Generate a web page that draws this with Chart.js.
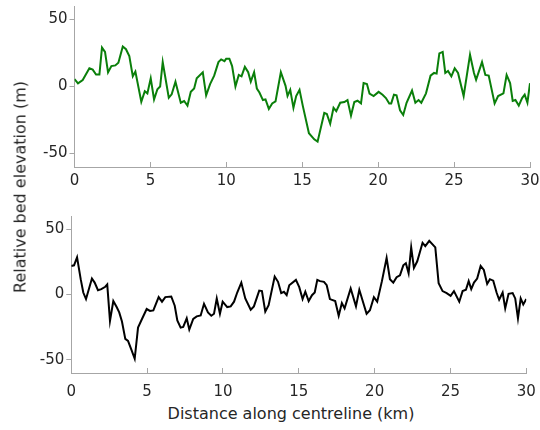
<!DOCTYPE html>
<html>
<head>
<meta charset="utf-8">
<script src="https://cdn.jsdelivr.net/npm/chart.js@4"></script>
<style>
body{margin:0;width:540px;height:430px;background:#fff;position:relative;overflow:hidden;font-family:"DejaVu Sans",sans-serif;color:#262626}
.box{position:absolute;left:0;width:540px}
#ytitle{position:absolute;left:20px;top:187px;transform:translate(-50%,-50%) rotate(-90deg);white-space:nowrap;font-size:16px}
#xtitle{position:absolute;left:291px;top:413px;transform:translate(-50%,-50%);white-space:nowrap;font-size:16px}
</style>
</head>
<body>
<div class="box" style="top:-5.5px;height:202px"><canvas id="topChart"></canvas></div>
<div class="box" style="top:205px;height:198px"><canvas id="botChart"></canvas></div>
<div id="ytitle">Relative bed elevation (m)</div>
<div id="xtitle">Distance along centreline (km)</div>
<script>
// distance along centreline (km) and relative bed elevation (m)
const topX=[0,0.23,0.54,0.98,1.2,1.42,1.64,1.81,2.01,2.21,2.43,2.69,2.89,3.18,3.39,3.61,3.84,4.01,4.4,4.63,4.8,5.02,5.24,5.46,5.64,5.81,6.21,6.4,6.65,7.0,7.22,7.44,7.66,7.88,8.05,8.45,8.67,8.93,9.2,9.48,9.66,9.88,9.99,10.2,10.38,10.6,10.82,11.0,11.22,11.44,11.61,11.83,12.01,12.18,12.41,12.58,12.8,13.02,13.24,13.59,13.9,14.03,14.21,14.42,14.6,14.82,15.04,15.44,15.79,16.01,16.45,16.62,16.84,17.06,17.24,17.5,17.77,17.98,18.21,18.43,18.64,18.87,19.04,19.26,19.43,19.7,20.03,20.29,20.51,20.73,20.86,21.04,21.21,21.44,21.65,21.87,22.23,22.45,22.66,22.84,23.15,23.45,23.68,23.85,24.03,24.25,24.42,24.6,24.82,25.04,25.26,25.63,26.05,26.31,26.45,26.84,27.06,27.28,27.67,27.9,28.25,28.46,28.69,28.86,29.04,29.26,29.48,29.65,29.83,30.0];
const topY=[5.5,2.3,4.8,13.6,12.6,8.9,8.9,29,25.8,10.6,15.2,15.7,17.7,29.8,27.8,22.7,7.6,11.1,-11.4,-3.5,-5.1,6.1,-9.6,-2,0,18.2,-8.3,-5.8,3.6,-12.1,-10.8,-14.2,-4,-1.5,6.1,10.6,-6.6,1.8,8.1,18.2,20.2,18.9,20.7,20.7,15.2,0,8.6,7.6,14.6,10.6,3.6,10.6,-1.5,-4.5,-10.1,-9.6,-16.7,-12.6,-11.1,10.6,0.5,-7.1,-2.5,-15.9,-7.1,-2.5,-14.6,-34.8,-39.4,-41.1,-19.7,-20.5,-27.8,-15.9,-18.4,-12.1,-11.6,-10.1,-21.7,-11.6,-10.6,-12.6,2.5,1.8,-5.3,-7.1,-4,-6.1,-8.6,-12.6,-12.6,-6.1,-6.6,-17.7,-21.2,-12.1,-3,-12.1,-10.1,-12.1,-5.1,8.1,10.1,9.6,24.7,25.8,10.1,11.6,7.6,13.6,10.1,-7.1,23.7,10.1,5,18.2,8.6,8.1,-12.6,-7.1,-5.1,8.6,2.5,-10.8,-10.1,-14.2,-8.6,-6.1,-12.1,2.5];
const botX=[0,0.18,0.38,0.62,0.79,0.97,1.36,1.54,1.76,1.98,2.24,2.37,2.55,2.77,2.99,3.16,3.34,3.56,3.74,3.96,4.18,4.4,4.66,4.97,5.19,5.41,5.76,5.98,6.2,6.59,6.82,6.99,7.21,7.38,7.61,7.78,8.04,8.27,8.53,8.75,9.01,9.23,9.41,9.59,9.8,9.98,10.28,10.51,10.73,10.94,11.21,11.47,11.83,12.04,12.39,12.57,12.79,13.01,13.41,13.63,13.84,14.02,14.2,14.37,14.81,15.03,15.25,15.43,15.65,15.87,16.05,16.22,16.4,16.66,16.84,17.05,17.4,17.63,17.84,18.02,18.42,18.77,18.99,19.47,19.69,19.95,20.17,20.48,20.79,21.01,21.23,21.45,21.67,21.89,22.06,22.24,22.41,22.59,22.81,23.16,23.34,23.6,24.0,24.22,24.48,24.75,25.01,25.23,25.58,25.8,26.02,26.2,26.37,26.55,26.76,26.99,27.2,27.42,27.6,27.82,28.04,28.21,28.44,28.61,28.83,29.1,29.27,29.45,29.63,29.8,30.0];
const botY=[21.8,22.3,28.4,11.7,1.5,-3.5,12.2,9.1,3.3,4.1,5.9,7.6,-20.2,-5,-9.6,-13.7,-20.7,-33.9,-35.4,-42.2,-49.1,-25.3,-18.7,-11.1,-12.6,-12.2,-2,-5.5,-2,-1.5,-8.6,-19.8,-25.3,-24.8,-18.2,-26.8,-18.7,-16.7,-16,-7.1,-13.7,-16.2,-14.7,-3,-14.7,-5.5,-9.6,-9.1,-5.5,1.5,9.1,-3,-11.6,-9.1,3,2.6,-13.1,-8.1,13.7,9.7,1.1,2.1,-0.5,7.1,11.2,5.6,-3.5,2.1,-5,-0.5,1.5,11.2,10.2,9.7,7.1,-3.5,-5,-16.2,-6.5,-10.6,4.6,-9.1,3.6,-14.7,-12,-2,-5.5,10.2,27.9,11.7,9.1,13.2,14.7,22.3,23.9,16.3,36,20.3,25.4,39.5,37,41,36,8.7,2.6,1.1,-1,2.6,-5.5,2.6,3.6,10.2,4.1,9.1,12.2,21.8,18.8,8.1,11.7,10.6,1.5,-4,1.5,-10.6,0.5,1.1,-3,-18.2,-3,-7.6,-3.5];
const xTicks=[0,5,10,15,20,25,30];
const yTicks=[-50,0,50];

const axisGray="#a6a6a6";
const textCol="#262626";

function makeChart(id,xs,ys,color,yWidth,xPad,rightPad){
const pts=xs.map((x,i)=>({x:x,y:ys[i]}));
return new Chart(document.getElementById(id),{
type:"line",
data:{datasets:[{data:pts,borderColor:color,borderWidth:2,pointRadius:0,tension:0,fill:false}]},
options:{
responsive:true,maintainAspectRatio:false,animation:false,
layout:{padding:{right:rightPad,top:0,bottom:0,left:0}},
plugins:{legend:{display:false},tooltip:{enabled:false}},
scales:{
x:{type:"linear",min:0,max:30,
afterBuildTicks:s=>{s.ticks=xTicks.map(v=>({value:v}));},
afterFit:s=>{s.height=30;s.paddingRight=0;s.paddingLeft=0;},
grid:{drawOnChartArea:false,color:axisGray,tickLength:-5},
border:{color:axisGray,width:1},
ticks:{color:textCol,font:{family:"DejaVu Sans",size:15},padding:xPad,maxRotation:0}},
y:{min:-60,max:60,
afterBuildTicks:s=>{s.ticks=yTicks.map(v=>({value:v}));},
afterFit:s=>{s.width=yWidth;},
grid:{drawOnChartArea:false,color:axisGray,tickLength:5},
border:{color:axisGray,width:1},
ticks:{color:textCol,font:{family:"DejaVu Sans",size:15},padding:2}}
}
}
});
}

makeChart("topChart",topX,topY,"#0a7f0a",74.5,10,10);
makeChart("botChart",botX,botY,"#000000",71.3,15,13.7);
</script>
</body>
</html>
